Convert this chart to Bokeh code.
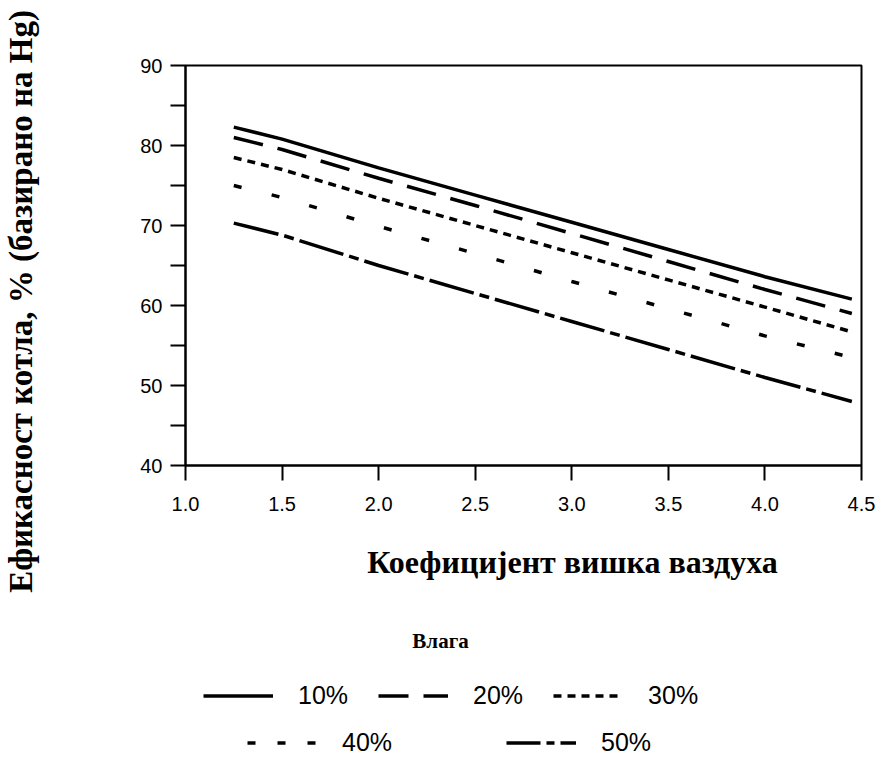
import math
from bokeh.plotting import figure
from bokeh.layouts import row, column
from bokeh.models import Range1d, FixedTicker, Legend, LegendItem, Label
from bokeh.embed import file_html
from bokeh.resources import INLINE

# ---- data ----
excess_air = [1.25, 1.5, 2.0, 2.5, 3.0, 3.5, 4.0, 4.45]
eff_10 = [82.3, 80.8, 77.2, 73.8, 70.4, 67.0, 63.6, 60.8]
eff_20 = [81.0, 79.5, 75.9, 72.5, 69.0, 65.5, 62.0, 59.0]
eff_30 = [78.5, 77.0, 73.4, 70.0, 66.6, 63.2, 59.8, 56.7]
eff_40 = [75.0, 73.5, 69.9, 66.5, 63.0, 59.6, 56.2, 53.5]
eff_50 = [70.3, 68.8, 65.0, 61.5, 58.0, 54.5, 51.0, 48.0]
series_labels = ["10%", "20%", "30%", "40%", "50%"]

x_ticks = [1.0, 1.5, 2.0, 2.5, 3.0, 3.5, 4.0, 4.5]
x_tick_labels = ["1.0", "1.5", "2.0", "2.5", "3.0", "3.5", "4.0", "4.5"]
y_ticks = [40, 50, 60, 70, 80, 90]
y_minor = [45, 55, 65, 75, 85]

y_title = "Ефикасност котла, % (базирано на Hg)"
x_title = "Коефицијент вишка ваздуха"
legend_title = "Влага"

dashes = [None, "30 15", "8 6", "8 31", "46 6 10 6"]
legend_dashes = [None, "30 15", "8 6", "8 22", "34 6 8 6"]
LW = 3.5

TITLE_FONT = dict(text_font="Liberation Serif", text_font_style="bold", text_color="black")

# ---------- left strip with the vertical axis title ----------
ytf = figure(width=40, height=757, output_backend="svg", toolbar_location=None,
             x_range=Range1d(0, 40), y_range=Range1d(757, 0),
             x_axis_type=None, y_axis_type=None, min_border=0)
ytf.grid.visible = False
ytf.outline_line_color = None
ytf.add_layout(Label(x=20, y=301, text=y_title, angle=math.pi / 2,
                     text_align="center", text_baseline="middle",
                     text_font_size="33px", **TITLE_FONT))

# ---------- main chart ----------
p = figure(width=836, height=520, output_backend="svg", toolbar_location=None,
           x_range=Range1d(1.0, 4.5), y_range=Range1d(40, 90),
           min_border_left=145, min_border_right=15, min_border_top=65,
           min_border_bottom=55)
p.grid.visible = False
p.outline_line_color = "black"
p.outline_line_width = 2

p.xaxis.ticker = FixedTicker(ticks=x_ticks, minor_ticks=[])
p.xaxis.major_label_overrides = {t: l for t, l in zip(x_ticks, x_tick_labels)}
p.yaxis.ticker = FixedTicker(ticks=y_ticks, minor_ticks=y_minor)

for ax in (p.xaxis[0], p.yaxis[0]):
    ax.axis_line_color = "black"
    ax.axis_line_width = 2
    ax.major_tick_line_color = "black"
    ax.major_tick_line_width = 2
    ax.major_tick_in = 0
    ax.major_tick_out = 15
    ax.minor_tick_line_color = "black"
    ax.minor_tick_line_width = 2
    ax.minor_tick_in = 0
    ax.minor_tick_out = 15
    ax.major_label_text_font = "Liberation Sans"
    ax.major_label_text_font_size = "20px"
    ax.major_label_text_color = "black"
p.xaxis.major_label_standoff = 16
p.yaxis.major_label_standoff = 8

series = [eff_10, eff_20, eff_30, eff_40, eff_50]
for ys, dash in zip(series, dashes):
    kw = dict(line_color="black", line_width=LW)
    if dash:
        kw["line_dash"] = dash
    p.line(excess_air, ys, **kw)

# ---------- bottom strip: x title and legend ----------
# its frame is aligned with the main chart's frame (page x 185..861)
bf = figure(width=836, height=237, output_backend="svg", toolbar_location=None,
            x_range=Range1d(185, 861), y_range=Range1d(757, 520),
            x_axis_type=None, y_axis_type=None, min_border=0)
bf.grid.visible = False
bf.outline_line_color = None
bf.add_layout(Label(x=572, y=561, text=x_title, text_align="center",
                    text_baseline="middle", text_font_size="32px", **TITLE_FONT))
bf.add_layout(Label(x=440, y=640, text=legend_title, text_align="center",
                    text_baseline="middle", text_font_size="21px", **TITLE_FONT))

# legend-sample renderers: same series, lying outside this strip's ranges (not drawn)
samples = []
for ys, dash in zip(series, legend_dashes):
    kw = dict(line_color="black", line_width=LW)
    if dash:
        kw["line_dash"] = dash
    samples.append(bf.line(excess_air, ys, **kw))

common = dict(orientation="horizontal", glyph_width=70, glyph_height=25, label_height=25,
              label_standoff=25, padding=0, margin=0, border_line_color=None,
              background_fill_alpha=0, label_text_font="Liberation Sans",
              label_text_font_size="25px", label_text_color="black")
leg1 = Legend(items=[LegendItem(label=series_labels[i], renderers=[samples[i]]) for i in range(3)],
              location=(18, 47), spacing=30, **common)
leg2 = Legend(items=[LegendItem(label=series_labels[i], renderers=[samples[i]]) for i in range(3, 5)],
              location=(62, 0), spacing=114, **common)
bf.add_layout(leg1)
bf.add_layout(leg2)

layout = row(ytf, column(p, bf))
open("out.html", "w").write(file_html(layout, INLINE))
